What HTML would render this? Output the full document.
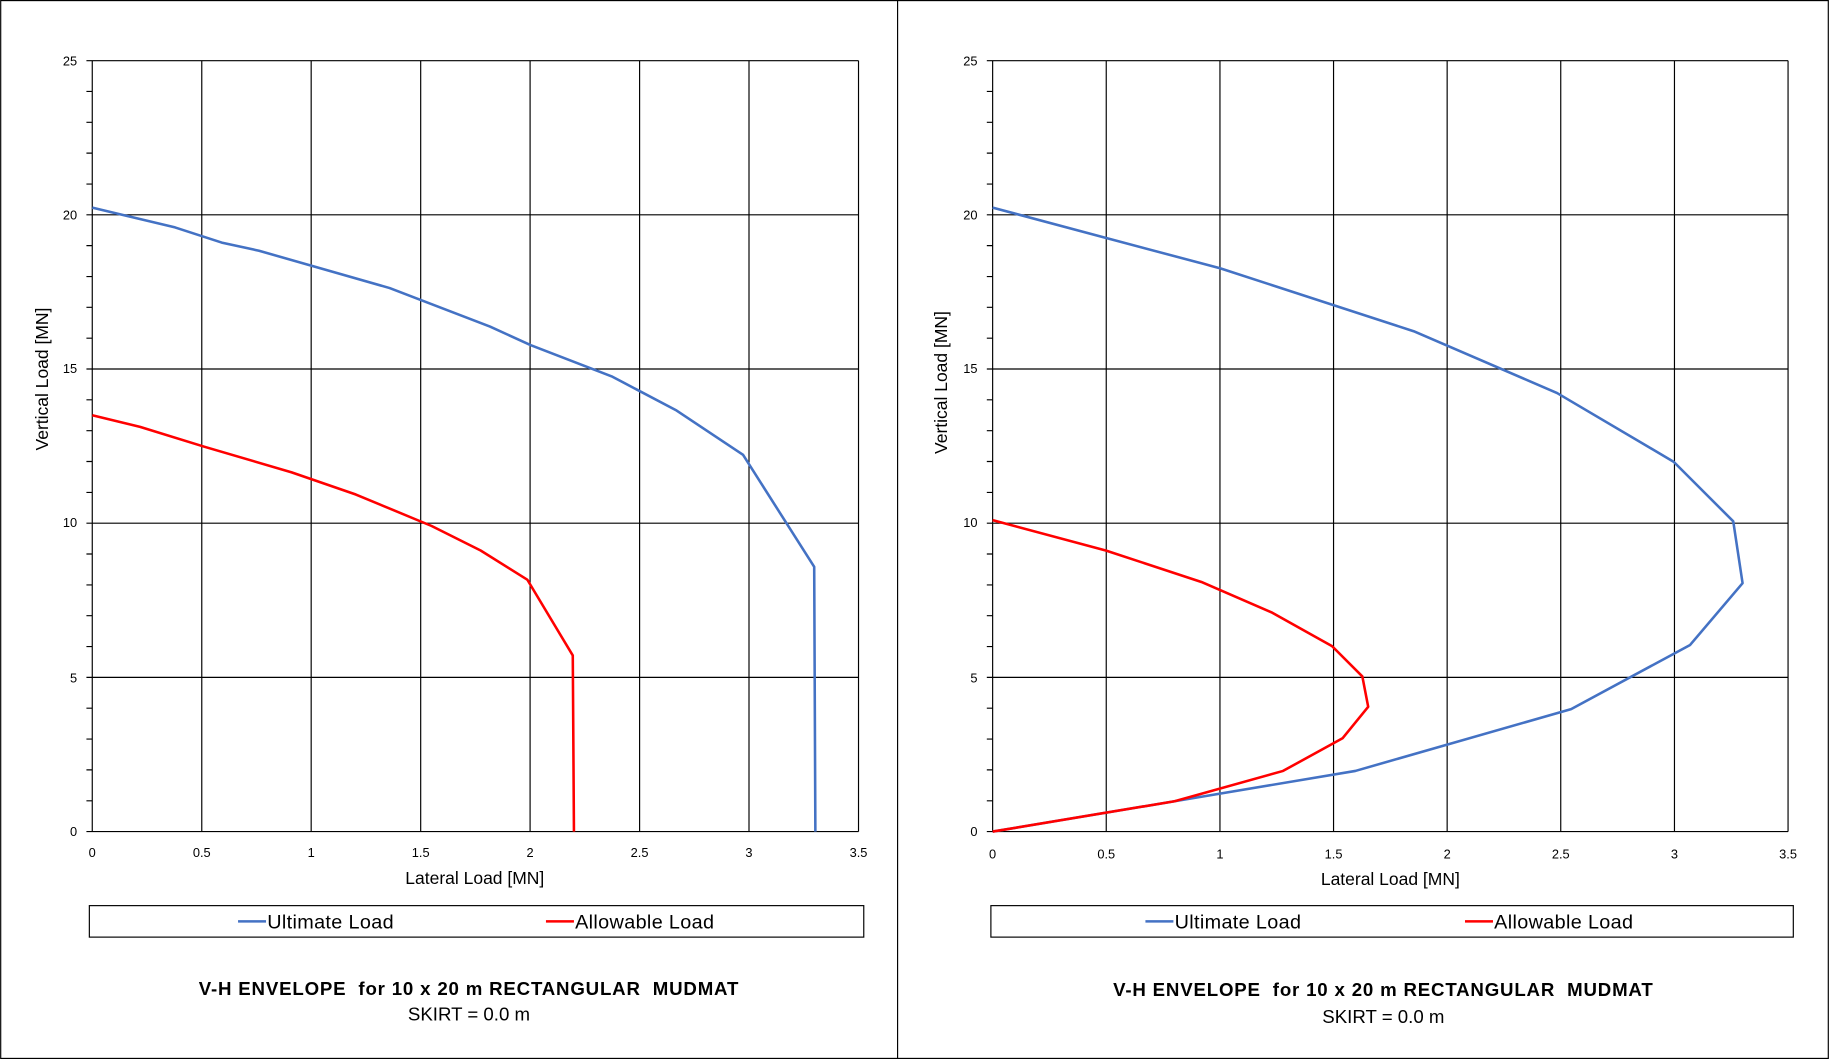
<!DOCTYPE html>
<html><head><meta charset="utf-8"><style>html,body{margin:0;padding:0;background:#fff}svg{display:block}text{white-space:pre}</style></head>
<body>
<svg width="1829" height="1059" viewBox="0 0 1568 908" xmlns="http://www.w3.org/2000/svg" font-family="Liberation Sans, Arial, sans-serif">
<rect x="0.5" y="0.5" width="1567" height="907" fill="#fff" stroke="#000"/>
<line x1="769.5" y1="0" x2="769.5" y2="908" stroke="#000"/>
<g stroke="#000" stroke-width="1">
<line x1="79" y1="52" x2="79" y2="713"/><line x1="172.9" y1="52" x2="172.9" y2="713"/><line x1="266.7" y1="52" x2="266.7" y2="713"/><line x1="360.6" y1="52" x2="360.6" y2="713"/><line x1="454.4" y1="52" x2="454.4" y2="713"/><line x1="548.3" y1="52" x2="548.3" y2="713"/><line x1="642.1" y1="52" x2="642.1" y2="713"/><line x1="736" y1="52" x2="736" y2="713"/>
<line x1="74" y1="52" x2="736" y2="52"/><line x1="74" y1="184.2" x2="736" y2="184.2"/><line x1="74" y1="316.4" x2="736" y2="316.4"/><line x1="74" y1="448.6" x2="736" y2="448.6"/><line x1="74" y1="580.8" x2="736" y2="580.8"/><line x1="74" y1="713" x2="736" y2="713"/>
<line x1="851" y1="52" x2="851" y2="713"/><line x1="948.4" y1="52" x2="948.4" y2="713"/><line x1="1045.9" y1="52" x2="1045.9" y2="713"/><line x1="1143.3" y1="52" x2="1143.3" y2="713"/><line x1="1240.7" y1="52" x2="1240.7" y2="713"/><line x1="1338.1" y1="52" x2="1338.1" y2="713"/><line x1="1435.6" y1="52" x2="1435.6" y2="713"/><line x1="1533" y1="52" x2="1533" y2="713"/>
<line x1="846" y1="52" x2="1533" y2="52"/><line x1="846" y1="184.2" x2="1533" y2="184.2"/><line x1="846" y1="316.4" x2="1533" y2="316.4"/><line x1="846" y1="448.6" x2="1533" y2="448.6"/><line x1="846" y1="580.8" x2="1533" y2="580.8"/><line x1="846" y1="713" x2="1533" y2="713"/>
</g>
<g stroke="#000">
<path d="M74 78.4h5M74 104.9h5M74 131.3h5M74 157.8h5M74 210.6h5M74 237.1h5M74 263.5h5M74 290h5M74 342.8h5M74 369.3h5M74 395.7h5M74 422.2h5M74 475h5M74 501.5h5M74 527.9h5M74 554.4h5M74 607.2h5M74 633.7h5M74 660.1h5M74 686.6h5"/>
<path d="M846 78.4h5M846 104.9h5M846 131.3h5M846 157.8h5M846 210.6h5M846 237.1h5M846 263.5h5M846 290h5M846 342.8h5M846 369.3h5M846 395.7h5M846 422.2h5M846 475h5M846 501.5h5M846 527.9h5M846 554.4h5M846 607.2h5M846 633.7h5M846 660.1h5M846 686.6h5"/>
</g>
<g font-size="11" fill="#000" text-anchor="end">
<text x="66" y="56">25</text><text x="66" y="188">20</text><text x="66" y="320">15</text><text x="66" y="452">10</text><text x="66" y="585">5</text><text x="66" y="717">0</text>
<text x="838" y="56">25</text><text x="838" y="188">20</text><text x="838" y="320">15</text><text x="838" y="452">10</text><text x="838" y="585">5</text><text x="838" y="717">0</text>
</g>
<g font-size="11" fill="#000" text-anchor="middle">
<text x="79" y="735">0</text><text x="172.9" y="735">0.5</text><text x="266.7" y="735">1</text><text x="360.6" y="735">1.5</text><text x="454.4" y="735">2</text><text x="548.3" y="735">2.5</text><text x="642.1" y="735">3</text><text x="736" y="735">3.5</text>
<text x="851" y="736">0</text><text x="948.4" y="736">0.5</text><text x="1045.9" y="736">1</text><text x="1143.3" y="736">1.5</text><text x="1240.7" y="736">2</text><text x="1338.1" y="736">2.5</text><text x="1435.6" y="736">3</text><text x="1533" y="736">3.5</text>
<text x="407" y="758" font-size="15">Lateral Load [MN]</text>
<text x="1192" y="759" font-size="15">Lateral Load [MN]</text>
<text transform="translate(41,325) rotate(-90)" font-size="15">Vertical Load [MN]</text>
<text transform="translate(812,328) rotate(-90)" font-size="15">Vertical Load [MN]</text>
<text x="402" y="853" font-size="16" font-weight="bold" letter-spacing="0.7">V-H ENVELOPE  for 10 x 20 m RECTANGULAR  MUDMAT</text>
<text x="402" y="875" font-size="16">SKIRT = 0.0 m</text>
<text x="1186" y="854" font-size="16" font-weight="bold" letter-spacing="0.7">V-H ENVELOPE  for 10 x 20 m RECTANGULAR  MUDMAT</text>
<text x="1186" y="877" font-size="16">SKIRT = 0.0 m</text>
</g>
<g fill="none" stroke-width="2.2" stroke-linejoin="round">
<polyline stroke="#4472C4" points="79,178 150,195 190,208 222,215 334,247 420,280 455,296 525,323 580,352 637,390 698,486 699,713"/>
<polyline stroke="#FF0000" points="79,356 120,366 175,383 250,405 305,424 370,451 412,472 452,497 491,562 492,713"/>
<polyline stroke="#4472C4" points="851,178 948,204 1046,230 1212,284 1335,337 1435,396 1486,447 1494,500 1449,553 1347,608 1162,661 1007,687 851,713"/>
<polyline stroke="#FF0000" points="851,446 948,472 1030,499 1090,525 1142,554 1168,580 1173,606 1151,633 1100,661 1007,687 851,713"/>
</g>
<rect x="76.5" y="776.5" width="664" height="27" fill="none" stroke="#000"/>
<rect x="849.5" y="776.5" width="688" height="27" fill="none" stroke="#000"/>
<g stroke-width="2.2">
<line x1="204" y1="790" x2="228" y2="790" stroke="#4472C4"/><line x1="468" y1="790" x2="492" y2="790" stroke="#FF0000"/>
<line x1="982" y1="790" x2="1006" y2="790" stroke="#4472C4"/><line x1="1256" y1="790" x2="1280" y2="790" stroke="#FF0000"/>
</g>
<g font-size="17" fill="#000" letter-spacing="0.3">
<text x="229" y="796">Ultimate Load</text><text x="493" y="796">Allowable Load</text>
<text x="1007" y="796">Ultimate Load</text><text x="1281" y="796">Allowable Load</text>
</g>
</svg>
</body></html>
